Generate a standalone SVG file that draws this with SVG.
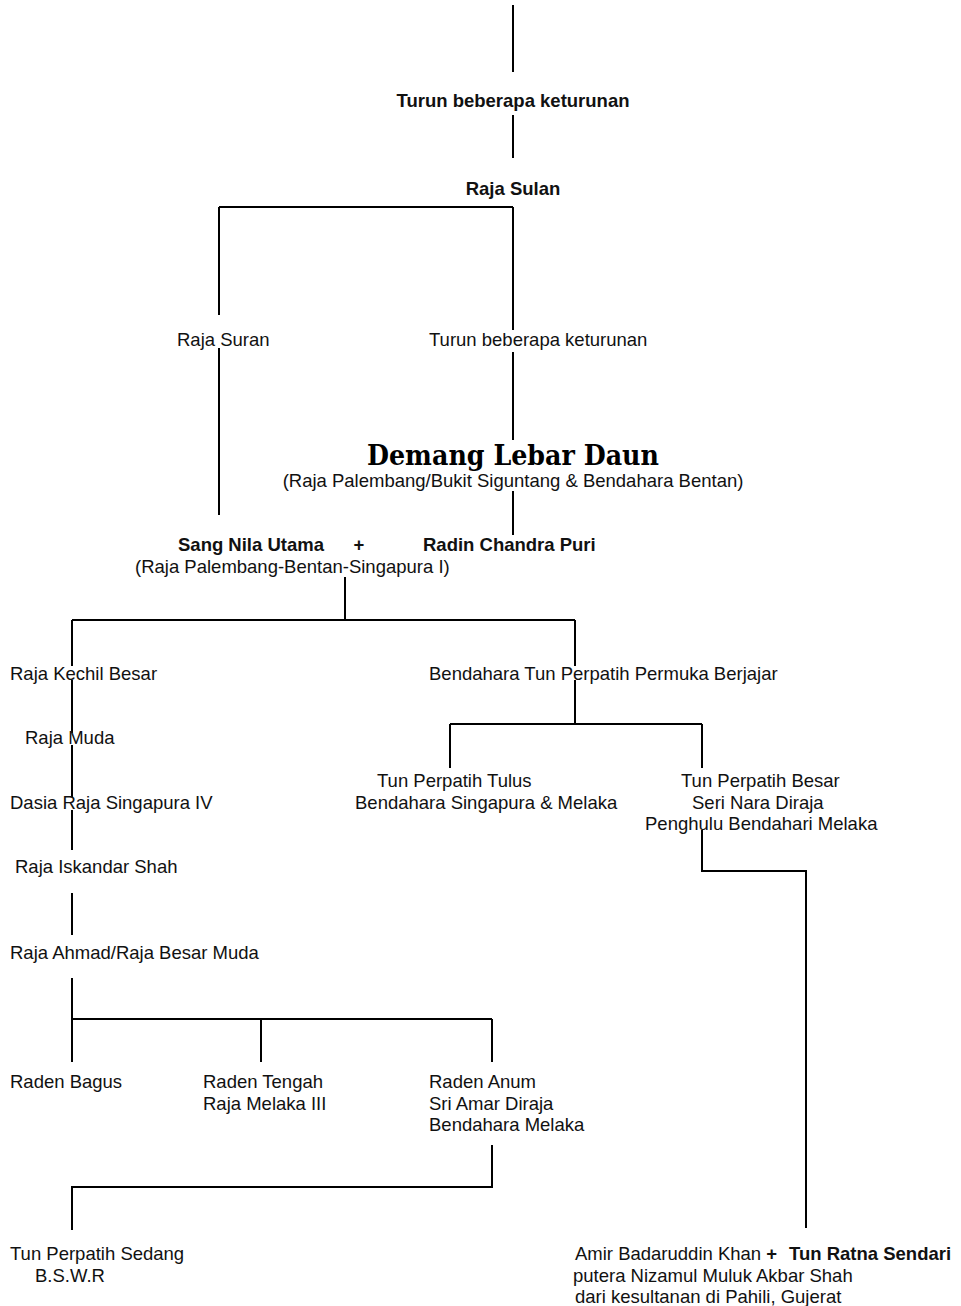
<svg xmlns="http://www.w3.org/2000/svg" width="961" height="1306" viewBox="0 0 961 1306">
<style>
text{font-family:"Liberation Sans",Arial,sans-serif;font-size:18.5px;fill:#111}
.b{font-weight:bold}
.title{font-family:"DejaVu Serif","Liberation Serif",serif;font-weight:bold;font-size:28px;fill:#000}
.c{stroke:#000;stroke-width:2;fill:none}
</style>
<rect width="961" height="1306" fill="#fff"/>
<g id="connectors" class="c">
<path d="M513 5V72"/>
<path d="M513 115V158"/>
<path d="M513 207V330M219 207H513M219 207V315"/>
<path d="M219 348V515"/>
<path d="M513 352V440"/>
<path d="M513 491V535"/>
<path d="M345 577V620M72 620H575"/>
<path d="M72 620V666M72 680V733M72 745V797M72 810V850"/>
<path d="M72 893V935"/>
<path d="M72 978V1062M72 1019H492M261 1019V1062M492 1019V1062"/>
<path d="M492 1145V1187H72V1230"/>
<path d="M575 620V666M575 680V724M450 724H702M450 724V768M702 724V768"/>
<path d="M702 830V871H806V1228"/>
</g>
<g id="n-turun1"><text class="b" x="513" y="107" text-anchor="middle">Turun beberapa keturunan</text></g>
<g id="n-rajasulan"><text class="b" x="513" y="195" text-anchor="middle">Raja Sulan</text></g>
<g id="n-rajasuran"><text x="177" y="346">Raja Suran</text></g>
<g id="n-turun2"><text x="429" y="346">Turun beberapa keturunan</text></g>
<g id="n-demang"><text class="title" x="513" y="465" text-anchor="middle" textLength="292" lengthAdjust="spacingAndGlyphs">Demang Lebar Daun</text>
<text x="513" y="487" text-anchor="middle">(Raja Palembang/Bukit Siguntang &amp; Bendahara Bentan)</text></g>
<g id="n-sangnila"><text class="b" x="178" y="551">Sang Nila Utama</text>
<text x="135" y="573">(Raja Palembang-Bentan-Singapura I)</text></g>
<g id="n-plus1"><text class="b" x="359" y="551" text-anchor="middle">+</text></g>
<g id="n-radin"><text class="b" x="423" y="551">Radin Chandra Puri</text></g>
<g id="n-kechil"><text x="10" y="680">Raja Kechil Besar</text></g>
<g id="n-bendahara"><text x="429" y="680">Bendahara Tun Perpatih Permuka Berjajar</text></g>
<g id="n-muda"><text x="25" y="744">Raja Muda</text></g>
<g id="n-tulus"><text x="377" y="787">Tun Perpatih Tulus</text>
<text x="355" y="809">Bendahara Singapura &amp; Melaka</text></g>
<g id="n-besar"><text x="681" y="787">Tun Perpatih Besar</text>
<text x="692" y="809">Seri Nara Diraja</text>
<text x="645" y="830">Penghulu Bendahari Melaka</text></g>
<g id="n-dasia"><text x="10" y="809">Dasia Raja Singapura IV</text></g>
<g id="n-iskandar"><text x="15" y="873">Raja Iskandar Shah</text></g>
<g id="n-ahmad"><text x="10" y="959">Raja Ahmad/Raja Besar Muda</text></g>
<g id="n-bagus"><text x="10" y="1088">Raden Bagus</text></g>
<g id="n-tengah"><text x="203" y="1088">Raden Tengah</text>
<text x="203" y="1110">Raja Melaka III</text></g>
<g id="n-anum"><text x="429" y="1088">Raden Anum</text>
<text x="429" y="1110">Sri Amar Diraja</text>
<text x="429" y="1131">Bendahara Melaka</text></g>
<g id="n-sedang"><text x="10" y="1260">Tun Perpatih Sedang</text>
<text x="35" y="1282">B.S.W.R</text></g>
<g id="n-amir"><text x="575" y="1260">Amir Badaruddin Khan <tspan class="b">+</tspan></text>
<text x="573" y="1282">putera Nizamul Muluk Akbar Shah</text>
<text x="575" y="1303">dari kesultanan di Pahili, Gujerat</text></g>
<g id="n-ratna"><text class="b" x="789" y="1260">Tun Ratna Sendari</text></g>
</svg>
